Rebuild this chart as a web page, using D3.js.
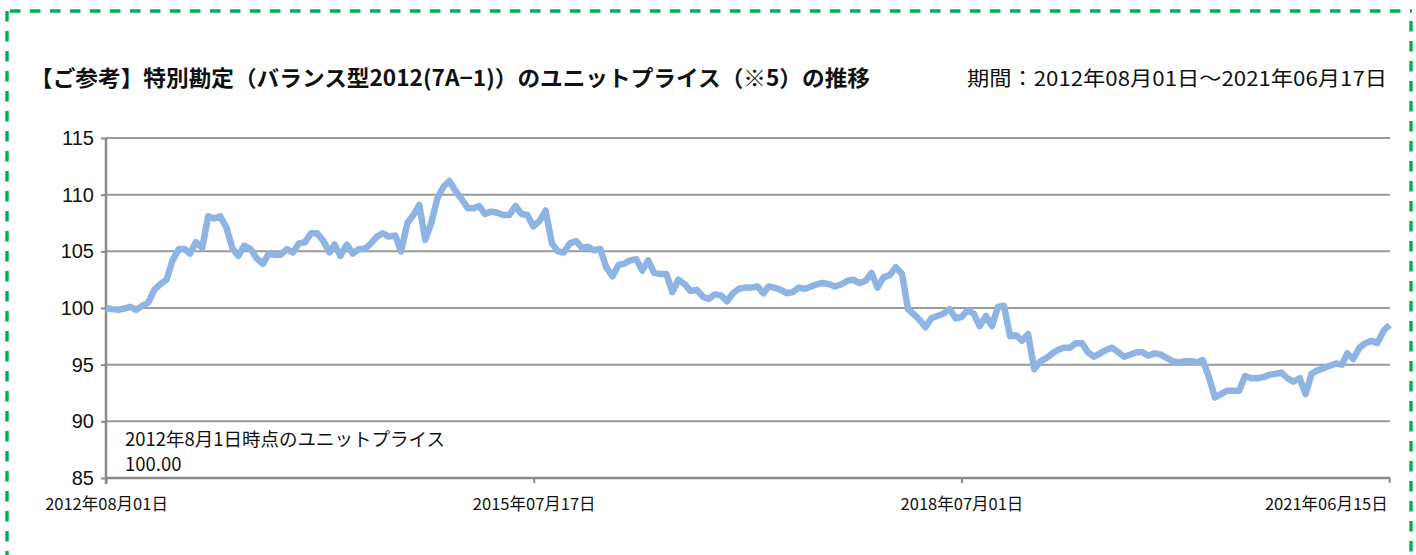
<!DOCTYPE html>
<html>
<head>
<meta charset="utf-8">
<script src="https://cdn.jsdelivr.net/npm/d3@7"></script>
<style>
  body { margin: 0; background: #fff; }
  svg { display: block; }
</style>
</head>
<body>
<div id="chart"></div>
<script>
var svgWidth = 1416;
var svgHeight = 555;

var margin = { top: 138, right: 26, bottom: 77, left: 106 };

// data: unit price, every half month (1st and 16th)
var startDate = "2012-08-01";
var unitPrice = [
  100.0, 99.9, 99.85, 99.95, 100.1, 99.85, 100.2, 100.5, 101.6, 102.1,
  102.5, 104.2, 105.2, 105.2, 104.8, 105.8, 105.3, 108.1, 107.9, 108.1,
  107.1, 105.3, 104.6, 105.5, 105.2, 104.4, 103.9, 104.8, 104.7, 104.7,
  105.2, 104.9, 105.7, 105.8, 106.6, 106.6, 105.9, 104.9, 105.6, 104.6,
  105.6, 104.8, 105.2, 105.2, 105.7, 106.3, 106.6, 106.3, 106.4, 105.0,
  107.5, 108.2, 109.1, 106.0, 107.6, 109.7, 110.7, 111.2, 110.3, 109.6,
  108.8, 108.8, 109.0, 108.3, 108.5, 108.4, 108.2, 108.2, 109.0, 108.3,
  108.2, 107.2, 107.7, 108.6, 105.7, 105.0, 104.9, 105.7, 105.9, 105.3,
  105.4, 105.1, 105.2, 103.6, 102.8, 103.8, 103.9, 104.2, 104.3, 103.3,
  104.2, 103.1, 103.0, 103.0, 101.4, 102.5, 102.1, 101.5, 101.6, 101.0,
  100.8, 101.2, 101.1, 100.6, 101.3, 101.7, 101.8, 101.8, 101.9, 101.3,
  101.9, 101.8, 101.6, 101.3, 101.4, 101.8, 101.7, 101.9, 102.1, 102.2,
  102.1, 101.9, 102.1, 102.4, 102.5, 102.2, 102.4, 103.1, 101.8, 102.7,
  102.9, 103.6, 103.0, 99.9, 99.5, 99.0, 98.3, 99.1, 99.3, 99.5,
  99.9, 99.1, 99.2, 99.8, 99.5, 98.4, 99.3, 98.4, 100.1, 100.2,
  97.5, 97.6, 97.1, 97.7, 94.6, 95.3, 95.6, 96.0, 96.3, 96.5,
  96.5, 96.9, 96.9, 96.1, 95.7, 96.0, 96.3, 96.5, 96.1, 95.7,
  95.9, 96.1, 96.1, 95.8, 96.0, 95.9, 95.6, 95.3, 95.2, 95.3,
  95.3, 95.2, 95.4, 94.0, 92.1, 92.4, 92.7, 92.7, 92.7, 94.0,
  93.8, 93.8, 93.9, 94.1, 94.2, 94.3, 93.8, 93.5, 93.8, 92.4,
  94.2, 94.5, 94.7, 94.9, 95.1, 95.0, 96.0, 95.5, 96.5, 96.9,
  97.1, 96.9, 98.0, 98.5
];

var xTickDates = ["2012-08-01", "2015-07-17", "2018-07-01", "2021-06-15"];
var xTickLabels = ["2012年08月01日", "2015年07月17日", "2018年07月01日", "2021年06月15日"];
var yTicks = [85, 90, 95, 100, 105, 110, 115];

var titleText = "【ご参考】特別勘定（バランス型2012(7A−1)）のユニットプライス（※5）の推移";
var periodText = "期間：2012年08月01日～2021年06月17日";
var noteLines = ["2012年8月1日時点のユニットプライス", "100.00"];

var parseDate = d3.timeParse("%Y-%m-%d");
var start = parseDate(startDate);

var series = unitPrice.map(function (v, i) {
    var m = d3.timeMonth.offset(start, Math.floor(i / 2));
    var d = i % 2 === 0 ? m : d3.timeDay.offset(m, 15);
    return { date: d, value: v };
});

var width = svgWidth - margin.left - margin.right;
var height = svgHeight - margin.top - margin.bottom;

var svg = d3.select("#chart")
    .append("svg")
    .attr("width", svgWidth)
    .attr("height", svgHeight);

// dashed green frame
var frame = svg.append("g")
    .attr("fill", "none")
    .attr("stroke", "#00b050")
    .attr("stroke-width", 3.4)
    .attr("stroke-dasharray", "10.5 9.5");
frame.append("line").attr("x1", 10).attr("y1", 11).attr("x2", 1412).attr("y2", 11);
frame.append("line").attr("x1", 7).attr("y1", 11).attr("x2", 7).attr("y2", 560);
frame.append("line").attr("x1", 1411).attr("y1", 21).attr("x2", 1411).attr("y2", 560);

svg.append("text")
    .attr("x", 30)
    .attr("y", 86)
    .attr("font-family", "'Noto Sans CJK JP', sans-serif")
    .attr("font-size", "22px")
    .attr("font-weight", "bold")
    .attr("fill", "#111")
    .attr("textLength", 840)
    .attr("lengthAdjust", "spacingAndGlyphs")
    .text(titleText);

svg.append("text")
    .attr("x", 1387)
    .attr("y", 86)
    .attr("text-anchor", "end")
    .attr("font-family", "'Noto Sans CJK JP', sans-serif")
    .attr("font-size", "20px")
    .attr("fill", "#111")
    .attr("textLength", 420)
    .attr("lengthAdjust", "spacingAndGlyphs")
    .text(periodText);

var chartGroup = svg.append("g")
    .attr("transform", `translate(${margin.left}, ${margin.top})`);

var xTimeScale = d3.scaleTime()
    .domain([parseDate("2012-08-01"), parseDate("2021-06-17")])
    .range([0, 1284]);

var yLinearScale = d3.scaleLinear()
    .domain([85, 115])
    .range([height, 0]);

// gridlines
chartGroup.append("g")
    .selectAll("line")
    .data(yTicks.filter(d => d > 85))
    .enter()
    .append("line")
    .attr("x1", 0)
    .attr("x2", width)
    .attr("y1", d => yLinearScale(d))
    .attr("y2", d => yLinearScale(d))
    .attr("stroke", "#9a9a9a")
    .attr("stroke-width", 2);

var leftAxis = d3.axisLeft(yLinearScale)
    .tickValues(yTicks)
    .tickSize(5)
    .tickSizeOuter(0)
    .tickPadding(7);

var yAxisG = chartGroup.append("g").call(leftAxis);
yAxisG.select(".domain").attr("stroke", "#8a8a8a").attr("stroke-width", 2.5)
    .attr("d", `M0,0V${height + 6}`);
yAxisG.selectAll(".tick line").attr("stroke", "#8a8a8a").attr("stroke-width", 2);
yAxisG.selectAll(".tick text")
    .attr("font-family", "'Liberation Sans', Arial, sans-serif")
    .attr("font-size", "20px")
    .attr("fill", "#111");

var bottomAxis = d3.axisBottom(xTimeScale)
    .tickValues(xTickDates.map(parseDate))
    .tickFormat((d, i) => xTickLabels[i])
    .tickSize(5)
    .tickSizeOuter(0)
    .tickPadding(15);

var xAxisG = chartGroup.append("g")
    .attr("transform", `translate(0, ${height})`)
    .call(bottomAxis);
xAxisG.select(".domain").attr("stroke", "#8a8a8a").attr("stroke-width", 2.5)
    .attr("d", `M0,0H${width}`);
xAxisG.selectAll(".tick line").attr("stroke", "#8a8a8a").attr("stroke-width", 2);
xAxisG.selectAll(".tick text")
    .attr("font-family", "'Noto Sans CJK JP', sans-serif")
    .attr("font-size", "16.5px")
    .attr("fill", "#111")
    .attr("text-anchor", (d, i) => i === xTickDates.length - 1 ? "end" : "middle")
    .attr("dx", (d, i) => i === xTickDates.length - 1 ? "-2" : "0");

var line = d3.line()
    .x(d => xTimeScale(d.date))
    .y(d => yLinearScale(d.value));

chartGroup.append("path")
    .datum(series)
    .attr("fill", "none")
    .attr("stroke", "#8db4e2")
    .attr("stroke-width", 6.5)
    .attr("stroke-linejoin", "round")
    .attr("d", line);

chartGroup.append("g")
    .selectAll("text")
    .data(noteLines)
    .enter()
    .append("text")
    .attr("x", 19)
    .attr("y", (d, i) => yLinearScale(88.5) + 8 + i * 25)
    .attr("font-family", "'Noto Sans CJK JP', sans-serif")
    .attr("font-size", "18.5px")
    .attr("fill", "#111")
    .text(d => d);
</script>
</body>
</html>
